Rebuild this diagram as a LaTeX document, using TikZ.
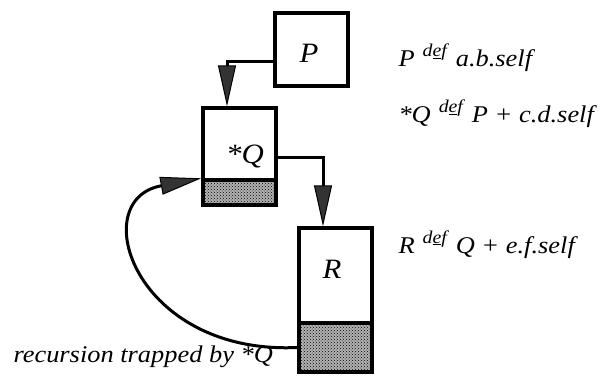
\documentclass[tikz,border=0pt]{standalone}
\usepackage{fontspec}
\setmainfont{Liberation Serif}[FakeStretch=1.1]
\usetikzlibrary{arrows.meta, patterns, positioning}
\newcommand{\dfn}{\hspace{8pt}\raisebox{10pt}{\fontsize{18}{18}\selectfont d\underline{e}f}\hspace{9pt}}

\begin{document}
\begin{tikzpicture}[x=1pt, y=-1pt,
  box/.style={draw=black, line width=3.4pt, minimum width=73pt, inner sep=0pt},
  trap/.style={box, preaction={fill=black!30}, pattern=crosshatch dots},
  conn/.style={line width=3pt,
               -{Triangle[length=41pt, width=18pt, fill=black!80, line width=1pt]}},
  lbl/.style={font=\fontsize{28}{28}\selectfont\itshape},
  eqn/.style={anchor=base west, font=\fontsize{24}{24}\selectfont\itshape}]
  \useasboundingbox (0,0) rectangle (607,377);
  % processes
  \node[box, minimum height=73pt] (P) at (311.5,49.5) {};
  \node[box, minimum height=72pt] (Q) at (239.5,144) {};
  \node[trap, minimum height=25pt] (Qtrap) at (239.5,192.5) {};
  \node[box, minimum height=95pt] (R) at (335.5,275.5) {};
  \node[trap, minimum height=49pt] (Rtrap) at (335.5,347.5) {};
  \node[lbl, anchor=base] (Pname) at (309,63) {P};
  \node[lbl, anchor=base] (Qname) at (245,163) {*Q};
  \node[lbl, anchor=base] (Rname) at (332,278) {R};
  % calls
  \draw[conn] ([yshift=-12.5pt]P.west) -| ([xshift=-12.5pt]Q.north);
  \draw[conn] ([yshift=-13pt]Q.east) -| ([xshift=-12.5pt]R.north);
  \draw[conn] (Rtrap.west) .. controls (135,355) and (85,200) .. (Qtrap.north west);
  % definitions
  \node[eqn] (Pdef) at (395,67) {P\dfn a.b.self};
  \node[eqn] (Qdef) at (395,123) {*Q\dfn P + c.d.self};
  \node[eqn] (Rdef) at (395,253) {R\dfn Q + e.f.self};
  \node[eqn] (trapped) at (10,362) {recursion trapped by *Q};
\end{tikzpicture}
\end{document}
